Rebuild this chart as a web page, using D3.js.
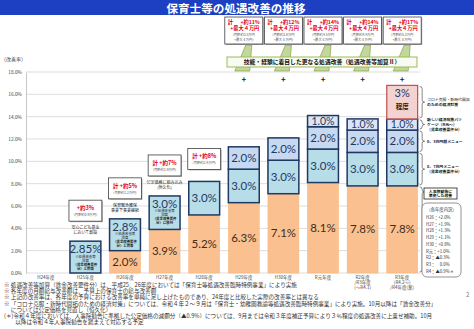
<!DOCTYPE html>
<html lang="ja">
<head>
<meta charset="utf-8">
<script src="https://cdn.jsdelivr.net/npm/d3@7"></script>
<style>
  html, body { margin: 0; padding: 0; background: #fff; }
  svg { display: block; font-family: "Noto Sans CJK JP", sans-serif; }
</style>
</head>
<body>
<div id="chart"></div>
<script>
// fiscal years (category keys) and the lines drawn under each bar
const years = ['H24', 'H25', 'H26', 'H27', 'H28', 'H29', 'H30', 'R1', 'R2R3', 'R3R4']
const yearLabels = [
  ['H24年度'], ['H25年度'], ['H26年度'], ['H27年度'], ['H28年度'],
  ['H29年度'], ['H30年度'], ['R元年度'],
  ['R2年度', '/R3年度', '(～R4.1)'],
  ['R3年度', '(R4.2～)', '/R4年度(案)']
]

// improvement rates (%) per component
const jinjiin = [0, 0, 2.0, 3.9, 5.2, 6.3, 7.1, 8.1, 7.8, 7.8] // 人事院勧告に準拠した改善
const kasan1 = [0, 2.85, 2.85, 3.0, 3.0, 3.0, 3.0, 3.0, 3.0, 3.0] // 0.7兆円メニュー
const menu03 = [0, 0, 0, 0, 0, 2.0, 2.0, 2.0, 2.0, 2.0] // 0.3兆円超メニュー
const keizaiPkg = [0, 0, 0, 0, 0, 0, 0, 1.0, 1.0, 1.0] // 新しい経済政策パッケージ
const corona = [0, 0, 0, 0, 0, 0, 0, 0, 0, 3] // コロナ克服・新時代開拓

const yTicks = [0, 2, 4, 6, 8, 10, 12, 14, 16, 18]

// callouts above the H25-H28 bars
const noteYears = ['H25', 'H26', 'H27', 'H28']
const noteTotals = ['+約3%', '計 +約5%', '計 +約7%', '計 +約8%']
const noteMonthly = ['(月額約0.9万円)', '(月額約1.2万円)', '(月額約1.9万円)', '(月額約2.4万円)']
const noteText = [['安心こども基金', 'において創設'], ['保育緊急確保', '事業で事業継続'], ['公定価格に組み込み', '(恒久化)'], []]

// boxes along the top for H29 onward
const topYears = ['H29', 'H30', 'R1', 'R2R3', 'R3R4']
const topTotals = ['+約11%', '+約12%', '+約14%', '+約14%', '+約17%']
const topMonthly = ['3.5', '3.8', '4.5', '4.4', '5.3']

// 各年度内訳
const breakdownYears = ['H26', 'H27', 'H28', 'H29', 'H30', 'R元', 'R2', 'R3', 'R4']
const breakdownValues = ['+2.0%', '+1.9%', '+1.3%', '+1.1%', '+0.8%', '+1.0%', '▲0.3%', '　0.0%', '▲0.9%＊']

const footnotes = [
  '※ 処遇改善等加算（賃金改善要件分）は、平成25、26年度においては「保育士等処遇改善臨時特例事業」により実施',
  '※ 各年度の月額給与改善額は、予算上の保育士の給与改善額',
  '※ 上記の改善率は、各年度の予算における改善率を単純に足し上げたものであり、24年度と比較した実際の改善率とは異なる',
  '※ 「コロナ克服・新時代開拓のための経済対策」については、令和４年２～９月は「保育士・幼稚園教諭等処遇改善臨時特例事業」により実施。10月以降は「賃金改善分」',
  '　 については公定価格を見直し（恒久化）',
  '(＊)令和４年度においては、人事院勧告に準拠した公定価格の減額分（▲0.9%）については、9月までは令和３年度補正予算により３％程度の処遇改善に上乗せ補助。10月',
  '　　以降は令和４年人事院勧告を踏まえて対応する予定'
]

const width = 474
const height = 329
const navy = '#1f3864'
const red = '#e0001b'

const svg = d3.select('#chart').append('svg')
  .attr('width', width)
  .attr('height', height)

// title bar
svg.append('rect').attr('width', width).attr('height', 15).attr('fill', '#1d3fc2')
svg.append('text')
  .attr('x', 236).attr('y', 13.4)
  .attr('text-anchor', 'middle')
  .attr('fill', '#fff')
  .attr('font-size', 11.6)
  .attr('font-weight', 700)
  .text('保育士等の処遇改善の推移')

const x = d3.scaleBand().domain(years).range([26, 422]).paddingInner(0.22).paddingOuter(0.11)
const y = d3.scaleLinear().domain([0, 18]).range([273, 72])
const bw = x.bandwidth()
const cx = d => x(d) + bw / 2

// grid + y axis
svg.append('g').selectAll('line').data(yTicks).join('line')
  .attr('x1', 26).attr('x2', 420)
  .attr('y1', d => y(d)).attr('y2', d => y(d))
  .attr('stroke', '#d4d4d4').attr('stroke-width', 0.8)

const yAxis = svg.append('g')
  .attr('transform', 'translate(26,0)')
  .call(d3.axisLeft(y).tickValues(yTicks).tickSize(0).tickPadding(4)
    .tickFormat(d => d3.format('.1f')(d) + '%'))
yAxis.select('.domain').attr('stroke', '#c8c8c8')
yAxis.selectAll('text')
  .attr('font-size', 4.8)
  .attr('fill', '#404040')
  .attr('font-family', '"Noto Sans CJK JP", sans-serif')

svg.append('text').attr('x', 1).attr('y', 61)
  .attr('font-size', 5).attr('fill', '#404040').text('（改善率）')

// x labels
svg.append('g').selectAll('text').data(years).join('text')
  .attr('x', d => cx(d))
  .attr('y', 279)
  .attr('text-anchor', 'middle')
  .attr('font-size', 4.5)
  .attr('fill', '#404040')
  .selectAll('tspan').data((d, i) => yearLabels[i]).join('tspan')
  .attr('x', function () { return this.parentNode.getAttribute('x') })
  .attr('dy', (d, i) => i ? 5 : 0)
  .text(d => d)

// stacked bars
const rows = years.map((yr, i) => ({
  year: yr, jinjiin: jinjiin[i], kasan1: kasan1[i], menu03: menu03[i], keizai: keizaiPkg[i], corona: corona[i]
}))
const keys = ['jinjiin', 'kasan1', 'menu03', 'keizai', 'corona']
const stacked = d3.stack().keys(keys)(rows)

const segStyle = {
  jinjiin: { fill: '#fac090', stroke: '#f7b67a', sw: 0.6, text: '#3e2c1c' },
  kasan1: { fill: '#b7dde8', stroke: navy, sw: 1.5, text: navy },
  menu03: { fill: '#c6d9f1', stroke: navy, sw: 1.5, text: navy },
  keizai: { fill: '#dce6f2', stroke: navy, sw: 1.5, text: navy },
  corona: { fill: '#f2d3d2', stroke: '#c0504d', sw: 1.2, text: navy }
}

// small print inside the first 処遇改善等加算 segments
const kasanSub = {
  H25: ['※処遇改善等', '加算', '（賃金改善要件', '分）と同等'],
  H26: ['※処遇改善等', '加算', '（賃金改善要件', '分）と同等'],
  H27: ['※処遇改善等', '加算', '（賃金改善要件', '分）に移行']
}

const layers = svg.append('g').selectAll('g').data(stacked).join('g')
layers.selectAll('rect')
  .data(l => l.filter(d => d[1] - d[0] > 0).map(d => Object.assign(d, { key: l.key })))
  .join('rect')
  .attr('x', d => x(d.data.year))
  .attr('y', d => y(d[1]))
  .attr('width', bw)
  .attr('height', d => y(d[0]) - y(d[1]))
  .attr('fill', d => segStyle[d.key].fill)
  .attr('stroke', d => segStyle[d.key].stroke)
  .attr('stroke-width', d => segStyle[d.key].sw)

const segs = stacked.flatMap(l => l.filter(d => d[1] - d[0] > 0))
const labels = svg.append('g').attr('font-family', 'Lato, "Open Sans", sans-serif')
segs.forEach(d => {
  const v = d[1] - d[0]
  const top = y(d[1])
  const mid = (y(d[0]) + y(d[1])) / 2
  const c = cx(d.data.year)
  const st = segStyle[d.key]
  if (d.key === 'corona') {
    labels.append('text').attr('x', c).attr('y', mid - 5)
      .attr('text-anchor', 'middle').attr('font-size', 11).attr('fill', st.text)
      .text(v + '%')
    labels.append('text').attr('x', c).attr('y', mid + 7)
      .attr('text-anchor', 'middle').attr('font-size', 6.5).attr('font-weight', 700)
      .attr('font-family', '"Noto Sans CJK JP", sans-serif').attr('fill', '#222')
      .text('程度')
    return
  }
  const txt = (v === 2.85 ? '2.85' : d3.format('.1f')(v)) + '%'
  const sub = d.key === 'kasan1' ? kasanSub[d.data.year] : null
  labels.append('text').attr('x', c).attr('y', sub ? top + 12 : mid + 4)
    .attr('text-anchor', 'middle')
    .attr('font-size', d.key === 'keizai' ? 10.5 : 11.5)
    .attr('fill', st.text)
    .text(txt)
  if (sub) {
    labels.append('g').selectAll('text').data(sub).join('text')
      .attr('x', c).attr('y', (s, i) => top + 16.5 + i * 4)
      .attr('text-anchor', 'middle')
      .attr('font-size', 3.4)
      .attr('font-weight', (s, i) => i > 1 ? 700 : 400)
      .attr('font-family', '"Noto Sans CJK JP", sans-serif')
      .attr('fill', '#222')
      .text(s => s)
  }
})

// callouts above H25-H28
noteYears.forEach((yr, i) => {
  const total = rows[years.indexOf(yr)]
  const sum = keys.reduce((a, k) => a + total[k], 0)
  const bottom = y(sum) - (noteText[i].length ? 20 : 12)
  const bx = x(yr) - 1
  const g = svg.append('g')
  g.append('rect').attr('x', bx + 1).attr('y', bottom - 21 + 1).attr('width', bw + 2).attr('height', 21)
    .attr('fill', '#b0b0b0')
  g.append('rect').attr('x', bx).attr('y', bottom - 21).attr('width', bw + 2).attr('height', 21)
    .attr('fill', '#fff').attr('stroke', '#404040').attr('stroke-width', 0.8)
  g.append('text').attr('x', cx(yr)).attr('y', bottom - 11)
    .attr('text-anchor', 'middle').attr('font-size', 5.5).attr('font-weight', 700)
    .attr('fill', red).text(noteTotals[i])
  g.append('text').attr('x', cx(yr)).attr('y', bottom - 5)
    .attr('text-anchor', 'middle').attr('font-size', 3.3)
    .attr('fill', '#555').text(noteMonthly[i])
  g.selectAll('.nt').data(noteText[i]).join('text')
    .attr('x', cx(yr)).attr('y', (s, j) => bottom + 8 + j * 5)
    .attr('text-anchor', 'middle').attr('font-size', 4)
    .attr('fill', '#222').text(s => s)
})

// green connectors from the top boxes to the 加算II banner
const conn = svg.append('g')
topYears.forEach(yr => {
  const c = cx(yr)
  conn.append('path')
    .attr('d', `M${c + 2},45 L${c + 8},45 L${c + 6},71 L${c - 9},71 Z`)
    .attr('fill', '#c4d79b').attr('stroke', '#77933c').attr('stroke-width', 0.6)
  svg.append('text').attr('x', c).attr('y', 82)
    .attr('text-anchor', 'middle').attr('font-size', 8).attr('font-weight', 700)
    .attr('fill', '#222').text('+')
})

svg.append('rect').attr('x', 227).attr('y', 57).attr('width', 190).attr('height', 10)
  .attr('fill', '#f7fbf1').attr('stroke', '#9bbb59').attr('stroke-width', 1)
svg.append('text').attr('x', 322).attr('y', 64.2)
  .attr('text-anchor', 'middle').attr('font-size', 5.8).attr('font-weight', 700)
  .attr('fill', '#111').text('技能・経験に着目した更なる処遇改善（処遇改善等加算Ⅱ）')

// top boxes
topYears.forEach((yr, i) => {
  const c = cx(yr)
  const g = svg.append('g')
  g.append('rect').attr('x', c - 18).attr('y', 18).attr('width', 38).attr('height', 27).attr('fill', '#a8a8a8')
  g.append('rect').attr('x', c - 19).attr('y', 17).attr('width', 38).attr('height', 27)
    .attr('fill', '#fff').attr('stroke', '#404040').attr('stroke-width', 0.8)
  g.append('text').attr('x', c - 16).attr('y', 24)
    .attr('font-size', 5.2).attr('font-weight', 700).attr('fill', red).text('計')
  g.append('text').attr('x', c + 16).attr('y', 24).attr('text-anchor', 'end')
    .attr('font-size', 5.2).attr('font-weight', 700).attr('fill', red).text(topTotals[i])
  g.append('text').attr('x', c + 1).attr('y', 30).attr('text-anchor', 'middle')
    .attr('font-size', 5.2).attr('font-weight', 700).attr('fill', red).text('+最大４万円')
  g.append('text').attr('x', c).attr('y', 36).attr('text-anchor', 'middle')
    .attr('font-size', 3.3).attr('fill', '#555').text(`(月額約${topMonthly[i]}万円`)
  g.append('text').attr('x', c).attr('y', 40.5).attr('text-anchor', 'middle')
    .attr('font-size', 3.3).attr('fill', '#555').text('+最大４万円)')
})

// braces and descriptions on the right of the last bar
const last = stacked.map(l => l[l.length - 1])
const bx0 = x('R3R4') + bw + 2
function brace(y0, y1, tip) {
  const t = tip == null ? (y0 + y1) / 2 : tip
  return `M${bx0},${y0} Q${bx0 + 2.5},${y0} ${bx0 + 2.5},${y0 + 2.5} L${bx0 + 2.5},${t - 2} ` +
    `Q${bx0 + 2.5},${t} ${bx0 + 5},${t} Q${bx0 + 2.5},${t} ${bx0 + 2.5},${t + 2} ` +
    `L${bx0 + 2.5},${y1 - 2.5} Q${bx0 + 2.5},${y1} ${bx0},${y1}`
}
const side = svg.append('g')
const sideText = {
  corona: [['コロナ克服・新時代開拓', 400], ['のための経済対策', 700]],
  keizai: [['新しい経済政策パッ', 700], ['ケージ（R元～）', 700], ['（賃金改善要件分）', 700]],
  menu03: [['0．3兆円超メニュー', 700]],
  kasan1: [['0．7兆円メニュー', 700], ['（賃金改善要件分）', 700]]
}
last.forEach((d, k) => {
  const key = keys[k]
  const y0 = y(d[1]) + 1
  const y1 = y(d[0]) - 1
  const tip = key === 'jinjiin' ? 192 : null
  side.append('path').attr('d', brace(y0, y1, tip))
    .attr('fill', 'none').attr('stroke', '#555').attr('stroke-width', 0.7)
  const lines = sideText[key]
  if (!lines) return
  const t = (y0 + y1) / 2
  lines.forEach(([s, w], j) => {
    side.append('text').attr('x', 427).attr('y', t + 1.5 + (j - (lines.length - 1) / 2) * 4.6)
      .attr('font-size', 3.9).attr('font-weight', w).attr('fill', '#222').text(s)
  })
})

// 人事院勧告 box and the yearly breakdown
side.append('rect').attr('x', 424).attr('y', 188).attr('width', 33).attr('height', 11)
  .attr('fill', '#fff').attr('stroke', '#222').attr('stroke-width', 0.8)
side.append('text').attr('x', 440.5).attr('y', 192.6).attr('text-anchor', 'middle')
  .attr('font-size', 3.9).attr('font-weight', 700).attr('fill', '#111').text('人事院勧告に')
side.append('text').attr('x', 440.5).attr('y', 197.4).attr('text-anchor', 'middle')
  .attr('font-size', 3.9).attr('font-weight', 700).attr('fill', '#111').text('準拠した改善')

side.append('rect').attr('x', 422).attr('y', 203).attr('width', 39).attr('height', 74).attr('rx', 5)
  .attr('fill', '#fff').attr('stroke', '#666').attr('stroke-width', 0.7)
side.append('text').attr('x', 441.5).attr('y', 211).attr('text-anchor', 'middle')
  .attr('font-size', 4.3).attr('fill', '#333').text('（各年度内訳）')
side.append('g').selectAll('text').data(breakdownYears).join('text')
  .attr('x', 426).attr('y', (d, i) => 219 + i * 6.7)
  .attr('font-size', 4.3).attr('fill', '#333')
  .text((d, i) => `${d}：${breakdownValues[i]}`)

// footnotes
svg.append('g').selectAll('text').data(footnotes).join('text')
  .attr('x', 4).attr('y', (d, i) => 287 + i * 6.2)
  .attr('font-size', 5.6).attr('fill', '#333')
  .text(d => d)

svg.append('text').attr('x', 466).attr('y', 297).attr('font-size', 6).attr('fill', '#777').text('2')
</script>
</body>
</html>
